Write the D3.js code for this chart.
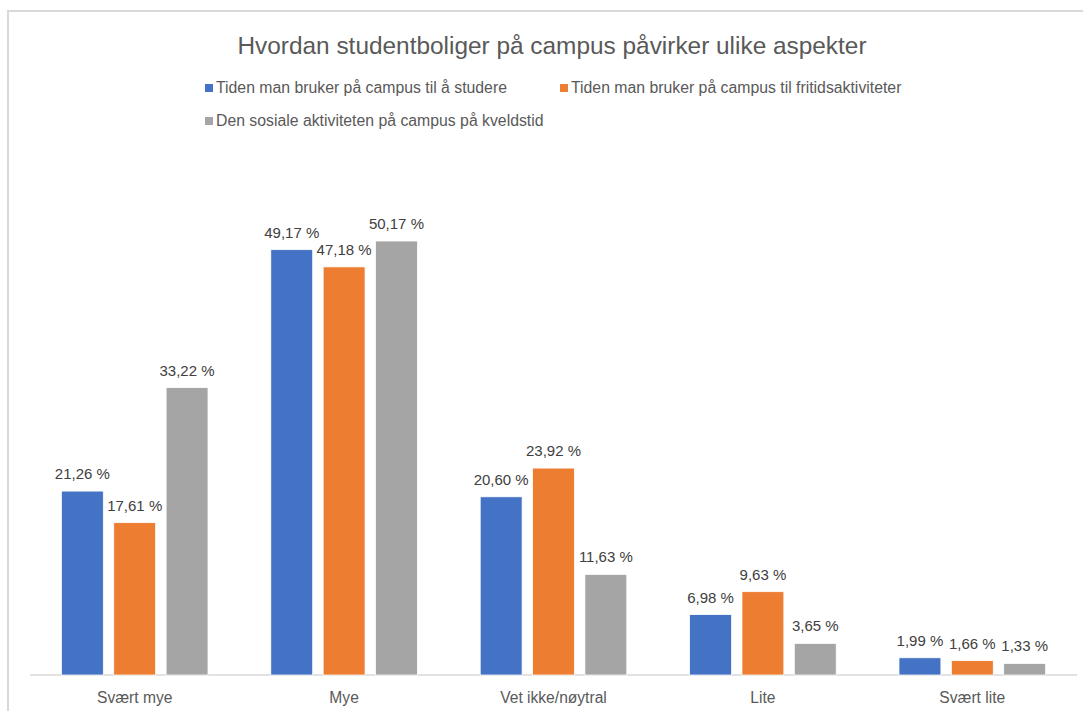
<!DOCTYPE html>
<html><head><meta charset="utf-8">
<script src="https://cdn.jsdelivr.net/npm/d3@7"></script>
<style>body{margin:0;background:#fff}</style>
</head><body>
<script>
const categories = ["Svært mye","Mye","Vet ikke/nøytral","Lite","Svært lite"];
const seriesNames = ["Tiden man bruker på campus til å studere","Tiden man bruker på campus til fritidsaktiviteter","Den sosiale aktiviteten på campus på kveldstid"];
const studere = [21.26,49.17,20.60,6.98,1.99];
const fritid = [17.61,47.18,23.92,9.63,1.66];
const sosial = [33.22,50.17,11.63,3.65,1.33];
const colors = ["#4472C4","#ED7D31","#A5A5A5"];
const title = "Hvordan studentboliger på campus påvirker ulike aspekter";
const values = [studere, fritid, sosial];

const W=1083,H=711;
const svg=d3.select("body").append("svg").attr("width",W).attr("height",H);
const font="'Liberation Sans', Arial, sans-serif";
svg.append("rect").attr("x",8).attr("y",11).attr("width",1100).attr("height",720)
  .attr("fill","#fff").attr("stroke","#d9d9d9").attr("stroke-width",2);

svg.append("text").attr("x",552).attr("y",54).attr("text-anchor","middle")
  .attr("font-family",font).attr("font-size",24.4).attr("fill","#595959").text(title);

const legPos=[[205,84],[560,84],[205,117]];
seriesNames.forEach((n,i)=>{
  const g=svg.append("g").attr("transform",`translate(${legPos[i][0]},${legPos[i][1]})`);
  g.append("rect").attr("width",8).attr("height",8).attr("fill",colors[i]);
  g.append("text").attr("x",11).attr("y",9).attr("font-family",font).attr("font-size",15.8)
    .attr("fill","#595959").text(n);
});

const baseY=675;
const y=d3.scaleLinear().domain([0,60]).range([baseY,baseY-60*8.65]);
const x0=d3.scaleBand().domain(categories).range([30,1077]).paddingInner(0.3).paddingOuter(0.15);
const x1=d3.scaleBand().domain(d3.range(3)).range([0,x0.bandwidth()]).paddingInner(0.2);

svg.append("line").attr("x1",30).attr("x2",1077).attr("y1",baseY).attr("y2",baseY)
  .attr("stroke","#d9d9d9").attr("stroke-width",1.5);

const fmt=v=>v.toFixed(2).replace(".",",")+" %";
categories.forEach((c,ci)=>{
  values.forEach((arr,si)=>{
    const v=arr[ci];
    const bx=x0(c)+x1(si);
    svg.append("rect").attr("x",bx).attr("y",y(v)).attr("width",x1.bandwidth())
      .attr("height",baseY-y(v)).attr("fill",colors[si]).attr("stroke","#fff").attr("stroke-width",0.75);
    svg.append("text").attr("x",bx+x1.bandwidth()/2).attr("y",y(v)-12).attr("text-anchor","middle")
      .attr("font-family",font).attr("font-size",15).attr("fill","#404040").text(fmt(v));
  });
  svg.append("text").attr("x",x0(c)+x0.bandwidth()/2).attr("y",703).attr("text-anchor","middle")
    .attr("font-family",font).attr("font-size",15.6).attr("fill","#595959").text(c);
});
</script>
</body></html>
